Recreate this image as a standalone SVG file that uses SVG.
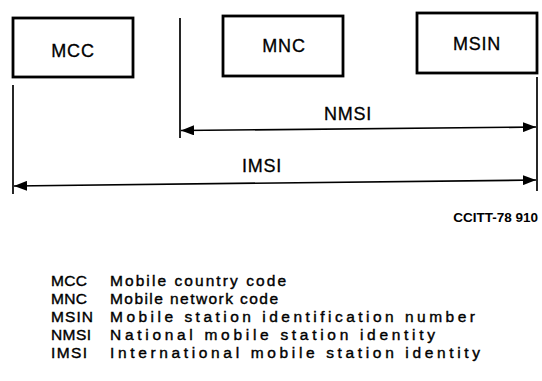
<svg xmlns="http://www.w3.org/2000/svg" width="542" height="381" viewBox="0 0 542 381">
<style>
.box{fill:#fff;stroke:#000;stroke-width:2.8}
.lbl{font-family:"Liberation Sans",Arial,sans-serif;font-size:18px;fill:#000;stroke:#000;stroke-width:0.3;text-anchor:middle;letter-spacing:0.8px}
.ln{stroke:#000;stroke-width:1.7;fill:none}
.leg{font-family:"Liberation Sans",Arial,sans-serif;font-size:15.5px;fill:#000;stroke:#000;stroke-width:0.4}
.ref{font-family:"Liberation Sans",Arial,sans-serif;font-size:13.5px;font-weight:bold;fill:#000;text-anchor:end}
</style>
<defs>
<marker id="ah" viewBox="0 0 13 10" refX="13" refY="5" markerWidth="13" markerHeight="10" markerUnits="userSpaceOnUse" orient="auto-start-reverse">
<path d="M0,0 L13,5 L0,10 z" fill="#000"/>
</marker>
</defs>
<g id="MCC"><rect class="box" x="13" y="18" width="120" height="59"/><text class="lbl" x="73" y="57">MCC</text></g>
<g id="MNC"><rect class="box" x="223" y="16" width="120" height="60"/><text class="lbl" x="284" y="52">MNC</text></g>
<g id="MSIN"><rect class="box" x="417" y="13" width="120" height="60"/><text class="lbl" x="477" y="50">MSIN</text></g>
<g id="connectors">
<line class="ln" x1="13" y1="85" x2="13" y2="194"/>
<line class="ln" x1="180" y1="18" x2="180" y2="138"/>
<line class="ln" x1="537" y1="77" x2="537" y2="191"/>
<line class="ln" x1="181" y1="130.5" x2="536" y2="127" marker-start="url(#ah)" marker-end="url(#ah)"/>
<line class="ln" x1="14" y1="186" x2="536" y2="180" marker-start="url(#ah)" marker-end="url(#ah)"/>
</g>
<g id="NMSI"><text class="lbl" x="348" y="120">NMSI</text></g>
<g id="IMSI"><text class="lbl" x="262" y="172">IMSI</text></g>
<text class="ref" x="538" y="222">CCITT-78 910</text>
<g id="legend">
<text class="leg" x="51" y="286" textLength="36" lengthAdjust="spacing">MCC</text><text class="leg" x="110" y="286" textLength="176" lengthAdjust="spacing">Mobile country code</text>
<text class="leg" x="51" y="304" textLength="36" lengthAdjust="spacing">MNC</text><text class="leg" x="110" y="304" textLength="168" lengthAdjust="spacing">Mobile network code</text>
<text class="leg" x="51" y="322" textLength="42" lengthAdjust="spacing">MSIN</text><text class="leg" x="110" y="322" textLength="365" lengthAdjust="spacing">Mobile station identification number</text>
<text class="leg" x="51" y="340" textLength="40" lengthAdjust="spacing">NMSI</text><text class="leg" x="110" y="340" textLength="325" lengthAdjust="spacing">National mobile station identity</text>
<text class="leg" x="51" y="358" textLength="36" lengthAdjust="spacing">IMSI</text><text class="leg" x="110" y="358" textLength="370" lengthAdjust="spacing">International mobile station identity</text>
</g>
</svg>
